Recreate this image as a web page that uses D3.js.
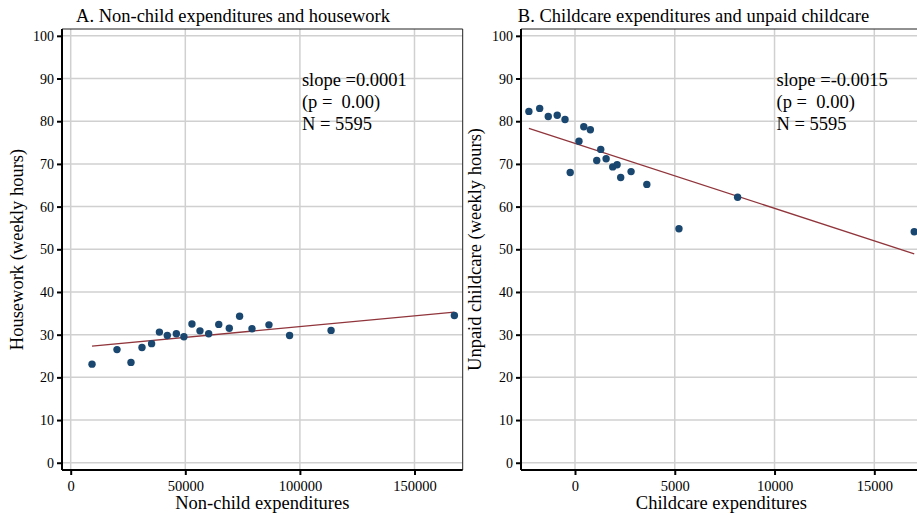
<!DOCTYPE html>
<html><head><meta charset="utf-8">
<script src="https://cdn.jsdelivr.net/npm/d3@7"></script>
<style>
html,body{margin:0;padding:0;background:#fff;}
svg{display:block;}
text{font-family:"Liberation Serif","Times New Roman",serif;fill:#000;white-space:pre;}
</style></head>
<body>
<svg id="chart" width="917" height="515"></svg>
<script>
// Panel A data: non-child expenditures vs housework (binned means)
const nonChildExp = [9300, 20200, 26300, 31100, 35300, 38700, 42150, 46100, 49400, 52900, 56400, 60200, 64600, 69200, 73700, 79100, 86500, 95500, 113600, 167400];
const housework   = [23.1, 26.5, 23.5, 27.0, 27.9, 30.6, 29.8, 30.2, 29.5, 32.5, 30.9, 30.2, 32.4, 31.5, 34.3, 31.4, 32.3, 29.8, 31.0, 34.5];
// Panel B data: childcare expenditures vs unpaid childcare
const childcareExp = [-2310, -1770, -1340, -890, -500, -240, 200, 440, 770, 1090, 1290, 1560, 1890, 2110, 2290, 2810, 3600, 5210, 8150, 17000];
const unpaidCare   = [82.3, 83.0, 81.1, 81.4, 80.4, 68.0, 75.3, 78.7, 78.0, 70.8, 73.4, 71.2, 69.3, 69.8, 66.8, 68.2, 65.2, 54.8, 62.2, 54.1];
// Fitted lines (intercept, slope)
const fitA = [26.83, 0.0000506];
const fitB = [74.79, -0.00152];
// Text
const titles = ["A. Non-child expenditures and housework", "B. Childcare expenditures and unpaid childcare"];
const xTitles = ["Non-child expenditures", "Childcare expenditures"];
const yTitles = ["Housework (weekly hours)", "Unpaid childcare (weekly hours)"];
const annotA = ["slope =0.0001", "(p =  0.00)", "N = 5595"];
const annotB = ["slope =-0.0015", "(p =  0.00)", "N = 5595"];
const yTicks = [0,10,20,30,40,50,60,70,80,90,100];
const xTicksA = [0, 50000, 100000, 150000];
const xTicksB = [0, 5000, 10000, 15000];

const svg = d3.select("#chart");
const font = '"Liberation Serif","Times New Roman",serif';
const plotTop = 29, plotBottom = 470;
const y = d3.scaleLinear().domain([-1.7, 101.6]).range([plotBottom, plotTop]);

const panels = [
  {x0:62, x1:462.7, dom:[-3796, 171030], xs:nonChildExp, ys:housework, fit:fitA, xt:xTicksA, annot:annotA, annX:100000,
   title:titles[0], xTitle:xTitles[0], yTitle:yTitles[0], titleX:233, yTitleX:17},
  {x0:521, x1:921.7, dom:[-2706, 17375], xs:childcareExp, ys:unpaidCare, fit:fitB, xt:xTicksB, annot:annotB, annX:10000,
   title:titles[1], xTitle:xTitles[1], yTitle:yTitles[1], titleX:693.5, yTitleX:475}
];

panels.forEach(p => {
  const x = d3.scaleLinear().domain(p.dom).range([p.x0, p.x1]);
  const g = svg.append("g");
  // grid
  g.selectAll(".hg").data(yTicks).enter().append("line")
    .attr("x1", p.x0).attr("x2", p.x1).attr("y1", d=>y(d)).attr("y2", d=>y(d))
    .attr("stroke", "#d0d0d0").attr("stroke-width", 1.5);
  g.selectAll(".vg").data(p.xt).enter().append("line")
    .attr("y1", plotTop).attr("y2", plotBottom).attr("x1", d=>x(d)).attr("x2", d=>x(d))
    .attr("stroke", "#d0d0d0").attr("stroke-width", 1.5);
  // outline top/right
  g.append("path").attr("d", `M${p.x0},${plotTop}H${p.x1}V${plotBottom}`)
    .attr("fill","none").attr("stroke","#222").attr("stroke-width",1);
  // fit line
  const xmin = d3.min(p.xs), xmax = d3.max(p.xs);
  const line = d3.line().x(d=>x(d)).y(d=>y(p.fit[0] + p.fit[1]*d));
  g.append("path").datum([xmin, xmax]).attr("d", line)
    .attr("stroke", "#90353b").attr("stroke-width", 1.3).attr("fill","none");
  // points
  g.selectAll(".pt").data(p.xs.map((v,i)=>[v,p.ys[i]])).enter().append("circle")
    .attr("cx", d=>x(d[0])).attr("cy", d=>y(d[1])).attr("r", 3.7).attr("fill", "#1a476f");
  // axes
  const ya = d3.axisLeft(y).tickValues(yTicks).tickSize(5).tickPadding(3).tickFormat(d3.format("d"));
  const yg = g.append("g").attr("transform", `translate(${p.x0},0)`).call(ya);
  const xa = d3.axisBottom(x).tickValues(p.xt).tickSize(5).tickPadding(6).tickFormat(d3.format("d"));
  const xg = g.append("g").attr("transform", `translate(0,${plotBottom})`).call(xa);
  [yg, xg].forEach(a => {
    a.attr("font-family", null).attr("font-size", null);
    a.select(".domain").attr("stroke","#000").attr("stroke-width",2);
    a.selectAll(".tick line").attr("stroke","#000").attr("stroke-width",2);
  });
  yg.selectAll("text").style("font-family", font).style("font-size", "14px").style("fill","#000");
  xg.selectAll("text").style("font-family", font).style("font-size", "14.5px").style("fill","#000");
  yg.select(".domain").attr("d", `M0,${plotTop}V${plotBottom}`);
  xg.select(".domain").attr("d", `M${p.x0},0H${p.x1}`);
  // titles
  g.append("text").attr("x", p.titleX).attr("y", 22).attr("text-anchor","middle")
    .style("font-size", "18.5px").text(p.title);
  g.append("text").attr("x", (p.x0+p.x1)/2).attr("y", 509).attr("text-anchor","middle")
    .style("font-size", "18.5px").text(p.xTitle);
  g.append("text").attr("transform", `translate(${p.yTitleX + 6},${(plotTop+plotBottom)/2}) rotate(-90)`)
    .attr("text-anchor","middle").style("font-size", "18.5px").text(p.yTitle);
  // annotation
  p.annot.forEach((t,i) => {
    g.append("text").attr("x", x(p.annX)+2).attr("y", 86 + i*22)
      .attr("xml:space","preserve").style("font-size", "18.5px").text(t);
  });
});
</script>
</body></html>
